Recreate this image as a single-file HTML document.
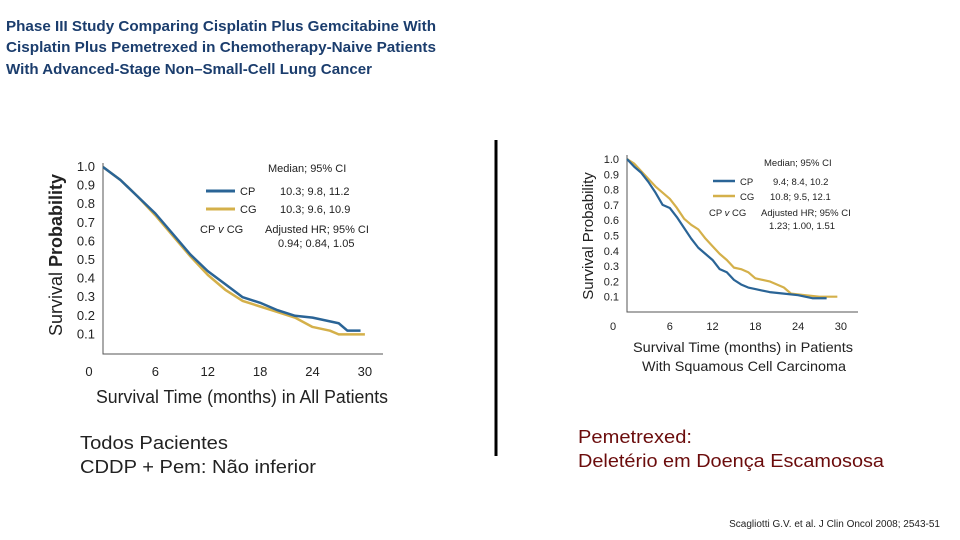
<!DOCTYPE html>
<html><head><meta charset="utf-8"><style>
body{margin:0;background:#fff;width:960px;height:540px;overflow:hidden;font-family:"Liberation Sans",sans-serif}
svg{display:block}
</style></head><body>
<svg width="960" height="540">
<g fill="#1b3d6d" font-size="15" font-weight="bold" font-family="Liberation Sans, sans-serif">
<text x="6" y="31" textLength="430" lengthAdjust="spacingAndGlyphs">Phase III Study Comparing Cisplatin Plus Gemcitabine With</text>
<text x="6" y="52" textLength="430" lengthAdjust="spacingAndGlyphs">Cisplatin Plus Pemetrexed in Chemotherapy-Naive Patients</text>
<text x="6" y="74" textLength="366" lengthAdjust="spacingAndGlyphs">With Advanced-Stage Non–Small-Cell Lung Cancer</text>
</g>
<line x1="496" y1="140" x2="496" y2="456" stroke="#000" stroke-width="3"/>
<g id="c1"></g>
<g id="c2"></g>
<g font-size="18" fill="#222">
<text x="80" y="449" textLength="148" lengthAdjust="spacingAndGlyphs">Todos Pacientes</text>
<text x="80" y="473" textLength="236" lengthAdjust="spacingAndGlyphs">CDDP + Pem: Não inferior</text>
<text x="578" y="443" fill="#6b0c0c" textLength="114" lengthAdjust="spacingAndGlyphs">Pemetrexed:</text>
<text x="578" y="467" fill="#6b0c0c" textLength="306" lengthAdjust="spacingAndGlyphs">Deletério em Doença Escamososa</text>
</g>
<text x="940" y="527" font-size="10" text-anchor="end" fill="#222">Scagliotti G.V. et al. J Clin Oncol 2008; 2543-51</text>
</svg>
<script>
const xTicks=[0,6,12,18,24,30];
const yTicks=[1.0,0.9,0.8,0.7,0.6,0.5,0.4,0.3,0.2,0.1];
const allTime=[0,2,4,6,8,10,12,14,16,18,20,22,24,26,27,28,29.5];
const allCP=[1.0,0.93,0.84,0.75,0.64,0.53,0.44,0.37,0.30,0.27,0.23,0.20,0.19,0.17,0.16,0.12,0.12];
const allCGTime=[0,2,4,6,8,10,12,14,16,18,20,22,24,26,27,30];
const allCG=[1.0,0.93,0.84,0.74,0.63,0.52,0.42,0.34,0.28,0.25,0.22,0.19,0.14,0.12,0.10,0.10];
const sqCPTime=[0,1,2,3,4,5,6,7,8,9,10,11,12,13,14,15,16,17,18,20,22,24,26,28];
const sqCP=[1.0,0.95,0.91,0.85,0.78,0.70,0.68,0.62,0.55,0.48,0.42,0.38,0.34,0.28,0.26,0.21,0.18,0.16,0.15,0.13,0.12,0.11,0.09,0.09];
const sqCGTime=[0,1,2,3,4,5,6,7,8,9,10,11,12,13,14,15,16,17,18,20,22,23,25,27,29.5];
const sqCG=[1.0,0.97,0.92,0.87,0.82,0.78,0.74,0.68,0.61,0.57,0.54,0.48,0.43,0.38,0.34,0.29,0.28,0.26,0.22,0.20,0.16,0.12,0.11,0.10,0.10];
const NS="http://www.w3.org/2000/svg";
function mk(p,tag,a,txt){const e=document.createElementNS(NS,tag);for(const k in a)e.setAttribute(k,a[k]);if(txt!==undefined)e.textContent=txt;p.appendChild(e);return e;}
function chart(g,o){
 const sx=t=>o.x0+t*o.px, sy=v=>o.y1+(1-v)*o.py;
 const ax=mk(g,'path',{d:`M${o.x0} ${o.y1-4}V${o.base}H${o.xEnd}`,stroke:'#555',fill:'none','stroke-width':1});
 
 
 yTicks.forEach(v=>{const t=mk(g,'text',{x:o.x0-8,y:sy(v)+4,'font-size':o.fs,'text-anchor':'end',fill:'#222'},v.toFixed(1));
  
  });
 xTicks.forEach(v=>{const t=mk(g,'text',{x:v===0?o.x0-14:sx(v),y:o.tickY,'font-size':o.fs,'text-anchor':'middle',fill:'#222'},v);
  
  });
 const series=[[o.cgT,o.cg,'#d4b04a','cg-curve'],[o.cpT,o.cp,'#2a6496','cp-curve']];
 series.forEach(([T,V,c,n])=>{let d='';T.forEach((t,i)=>{d+=(i?'L':'M')+sx(t)+' '+sy(V[i]);});
  const p=mk(g,'path',{d:d,stroke:c,fill:'none','stroke-width':o.sw,'stroke-linejoin':'round'});
  
  });
}
const c1=document.getElementById('c1'),c2=document.getElementById('c2');
chart(c1,{x0:103,px:8.73,y1:167,py:186,base:354,xEnd:383,tickY:376,fs:13,sw:2.5,cpT:allTime,cp:allCP,cgT:allCGTime,cg:allCG});
chart(c2,{x0:627,px:7.13,y1:159,py:153,base:312,xEnd:858,tickY:330,fs:11,sw:2.2,cpT:sqCPTime,cp:sqCP,cgT:sqCGTime,cg:sqCG});
c1.insertAdjacentHTML('beforeend',`
<text x="62" y="255" font-size="18" fill="#222" text-anchor="middle" transform="rotate(-90 62 255)">Survival <tspan font-weight="bold">Probability</tspan></text>
<text x="242" y="403" font-size="18" fill="#222" text-anchor="middle" textLength="292" lengthAdjust="spacingAndGlyphs">Survival Time (months) in All Patients</text>
<g font-size="11" fill="#222">
<text x="268" y="172">Median; 95% CI</text>
<line x1="206" y1="191" x2="235" y2="191" stroke="#2a6496" stroke-width="3"/><text x="240" y="195">CP</text><text x="280" y="195">10.3;  9.8,  11.2</text>
<line x1="206" y1="209" x2="235" y2="209" stroke="#d4b04a" stroke-width="3"/><text x="240" y="213">CG</text><text x="280" y="213">10.3;  9.6,  10.9</text>
<text x="200" y="233">CP <tspan font-style="italic">v</tspan> CG</text><text x="265" y="233">Adjusted HR; 95% CI</text>
<text x="278" y="247">0.94;  0.84, 1.05</text></g>`);
c2.insertAdjacentHTML('beforeend',`
<text x="593" y="236" font-size="15" fill="#222" text-anchor="middle" transform="rotate(-90 593 236)">Survival Probability</text>
<text x="743" y="352" font-size="14" fill="#222" text-anchor="middle" textLength="220" lengthAdjust="spacingAndGlyphs">Survival Time (months) in Patients</text>
<text x="744" y="371" font-size="14" fill="#222" text-anchor="middle" textLength="204" lengthAdjust="spacingAndGlyphs">With Squamous Cell Carcinoma</text>
<g font-size="9.5" fill="#222">
<text x="764" y="166">Median; 95% CI</text>
<line x1="713" y1="181" x2="735" y2="181" stroke="#2a6496" stroke-width="2.5"/><text x="740" y="185">CP</text><text x="773" y="185">9.4;   8.4,  10.2</text>
<line x1="713" y1="196" x2="735" y2="196" stroke="#d4b04a" stroke-width="2.5"/><text x="740" y="200">CG</text><text x="770" y="200">10.8;  9.5,  12.1</text>
<text x="709" y="216">CP <tspan font-style="italic">v</tspan> CG</text><text x="761" y="216">Adjusted HR; 95% CI</text>
<text x="769" y="229">1.23;  1.00, 1.51</text></g>`);
</script>
</body></html>
